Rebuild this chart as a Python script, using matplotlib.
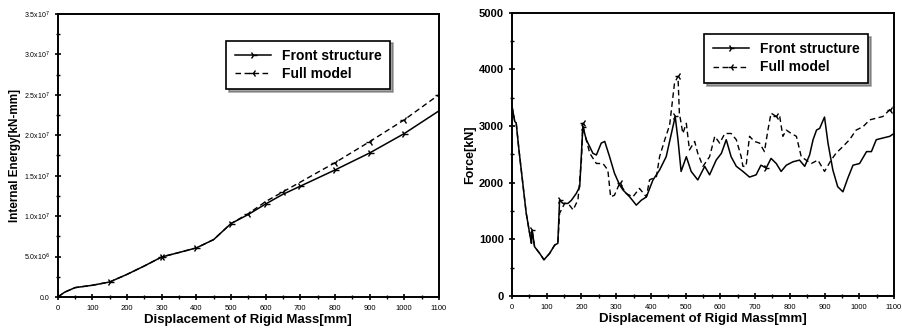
import matplotlib
matplotlib.use('Agg')
import matplotlib.pyplot as plt
import numpy as np

plt.rcParams['font.family'] = ['Liberation Sans', 'DejaVu Sans']

# internal energy vs displacement
e_x = [0, 20, 50, 100, 150, 200, 250, 300, 350, 400, 450, 500, 550,
       600, 650, 700, 800, 900, 1000, 1100]
e_front = [0, 0.6e6, 1.16e6, 1.45e6, 1.86e6, 2.8e6, 3.84e6, 4.95e6, 5.5e6,
           6.07e6, 7.1e6, 9.08e6, 1.02e7, 1.15e7, 1.27e7, 1.37e7, 1.57e7,
           1.78e7, 2.02e7, 2.30e7]
e_full = [0, 0.6e6, 1.16e6, 1.45e6, 1.86e6, 2.8e6, 3.84e6, 4.95e6, 5.5e6,
          6.07e6, 7.1e6, 9.08e6, 1.03e7, 1.18e7, 1.30e7, 1.42e7, 1.66e7,
          1.92e7, 2.19e7, 2.50e7]

# force vs displacement
f_front_x = [0, 8, 12, 20, 41, 51, 56, 58, 65, 80, 92, 108, 123, 132, 137,
             147, 161, 171, 185, 195, 204, 214, 233, 243, 257, 267, 281, 295,
             310, 320, 339, 358, 372, 387, 406, 425, 444, 459, 470, 478, 487,
             502, 516, 535, 555, 569, 588, 603, 617, 631, 646, 665, 684, 703,
             717, 732, 746, 761, 775, 790, 809, 828, 843, 857, 867, 877, 886,
             900, 910, 924, 938, 953, 967, 982, 1001, 1021, 1035, 1049, 1068,
             1088, 1100]
f_front = [3350, 3080, 3060, 2580, 1460, 1100, 930, 1160, 870, 750, 640, 750,
           900, 930, 1690, 1635, 1635, 1690, 1810, 1930, 2990, 2760, 2520, 2490,
           2700, 2730, 2460, 2170, 1960, 1870, 1750, 1605, 1690, 1750, 2050,
           2225, 2460, 2870, 3170, 2760, 2200, 2460, 2200, 2050, 2290, 2140,
           2400, 2520, 2760, 2460, 2290, 2200, 2100, 2140, 2310, 2260, 2430,
           2340, 2200, 2310, 2370, 2400, 2290, 2490, 2760, 2930, 2960, 3160,
           2700, 2225, 1930, 1840, 2080, 2310, 2340, 2550, 2550, 2760, 2790,
           2820, 2870]
f_full_x = [0, 8, 12, 20, 41, 51, 56, 58, 65, 80, 92, 108, 123, 132, 137, 152,
            166, 176, 190, 200, 204, 209, 224, 243, 262, 276, 284, 295, 310,
            329, 348, 367, 387, 396, 416, 425, 440, 454, 468, 478, 482, 492,
            502, 511, 526, 535, 550, 569, 584, 598, 613, 631, 646, 660, 665,
            674, 684, 698, 713, 727, 737, 746, 761, 771, 780, 790, 804, 819,
            833, 847, 862, 881, 900, 919, 933, 953, 972, 991, 1011, 1030,
            1049, 1068, 1088, 1100]
f_full = [3350, 3080, 3060, 2580, 1460, 1100, 930, 1160, 870, 750, 640, 750,
          900, 930, 1460, 1640, 1600, 1520, 1700, 2400, 3050, 2870, 2520, 2340,
          2340, 2225, 1750, 1780, 1990, 1810, 1750, 1900, 1750, 2050, 2110,
          2460, 2760, 3020, 3760, 3880, 3230, 2870, 3050, 2580, 2730, 2520,
          2290, 2460, 2820, 2700, 2870, 2870, 2760, 2460, 2290, 2290, 2820,
          2730, 2700, 2550, 2930, 3230, 3170, 3170, 2820, 2930, 2870, 2820,
          2460, 2400, 2340, 2400, 2200, 2400, 2520, 2640, 2760, 2930, 2990,
          3110, 3140, 3170, 3290, 3350]

x_ticks = np.arange(0, 1101, 100)
e_ticks = [0, 5e6, 1e7, 1.5e7, 2e7, 2.5e7, 3e7, 3.5e7]
e_labels = ['0.0', r'5.0x10$^6$', r'1.0x10$^7$', r'1.5x10$^7$', r'2.0x10$^7$',
            r'2.5x10$^7$', r'3.0x10$^7$', r'3.5x10$^7$']
f_ticks = [0, 1000, 2000, 3000, 4000, 5000]

fig = plt.figure(figsize=(9.03, 3.30), dpi=100)
ax1 = fig.add_axes([0.064, 0.100, 0.422, 0.858])
ax2 = fig.add_axes([0.567, 0.103, 0.423, 0.858])


def style(ax):
    for s in ax.spines.values():
        s.set_linewidth(1.4)
    ax.tick_params(direction='inout', width=1.2, length=5)
    ax.tick_params(which='minor', direction='inout', width=1, length=3)
    ax.set_xlim(0, 1100)
    ax.set_xticks(x_ticks)
    ax.set_xticks(x_ticks[:-1] + 50, minor=True)
    ax.set_xticklabels([str(v) for v in x_ticks], fontsize=5.5)
    ax.set_xlabel('Displacement of Rigid Mass[mm]', fontsize=9.5,
                  fontweight='semibold', labelpad=1)


def add_legend(ax, loc):
    leg = ax.legend(loc='upper right', bbox_to_anchor=loc,
                    fancybox=False, shadow=True, edgecolor='black',
                    framealpha=1, handlelength=2.6, borderpad=0.6,
                    labelspacing=0.3, prop={'weight': 'bold', 'size': 10})
    leg.get_frame().set_linewidth(1.2)


style(ax1)
ax1.plot(e_x, e_front, color='black', lw=1.1, marker='4', ms=6,
         markevery=[4, 7, 9, 11, 13, 15, 16, 17, 18], label='Front structure')
ax1.plot(e_x, e_full, color='black', lw=1.0, ls=(0, (4, 2.5)), marker='3',
         ms=6, markevery=[7, 12, 14, 16, 17, 18, 19], label='Full model')
ax1.set_ylim(0, 3.5e7)
ax1.set_yticks(e_ticks)
ax1.set_yticks(np.arange(2.5e6, 3.5e7, 5e6), minor=True)
ax1.set_yticklabels(e_labels, fontsize=5)
ax1.set_ylabel('Internal Energy[kN-mm]', fontsize=8.5, fontweight='semibold',
               labelpad=2)
add_legend(ax1, (0.89, 0.93))

style(ax2)
ax2.plot(f_front_x, f_front, color='black', lw=1.1, marker='4', ms=5,
         markevery=[7, 14, 20, 38, 55], label='Front structure')
ax2.plot(f_full_x, f_full, color='black', lw=1.0, ls=(0, (4, 2.5)),
         marker='3', ms=5, markevery=[20, 28, 39, 62, 82], label='Full model')
ax2.set_ylim(0, 5000)
ax2.set_yticks(f_ticks)
ax2.set_yticks(np.arange(500, 5000, 1000), minor=True)
ax2.set_yticklabels([str(v) for v in f_ticks], fontsize=8, fontweight='bold')
ax2.set_ylabel('Force[kN]', fontsize=9, fontweight='semibold', labelpad=2)
add_legend(ax2, (0.95, 0.95))

fig.savefig('out.png', dpi=100)
